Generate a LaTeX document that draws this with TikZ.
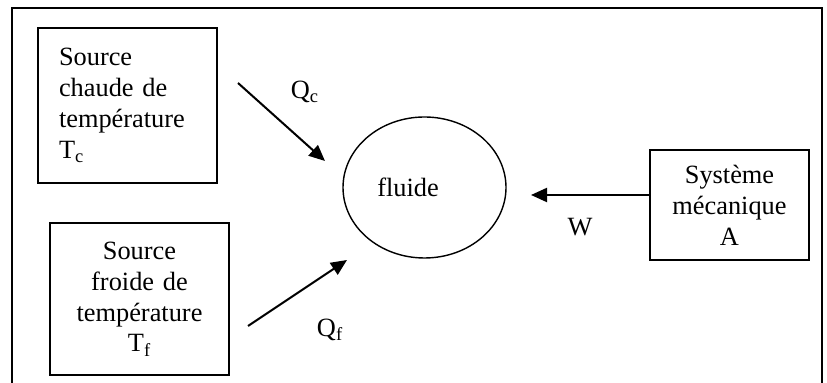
\documentclass[tikz,border=0pt]{standalone}
\usepackage{fontspec}
\setmainfont{Liberation Serif}
\usepackage{tikz}
\usetikzlibrary{arrows.meta, positioning, shapes.geometric, calc}

\begin{document}
\begin{tikzpicture}[
        box/.style={rectangle, draw, line width=0.8pt, minimum width=3.58cm, inner sep=0pt},
        fluidshape/.style={ellipse, draw, line width=0.8pt, minimum width=3.26cm, minimum height=2.82cm},
        flow/.style={line width=1.15pt, -{Triangle[length=0.32cm, width=0.28cm]}},
        lbl/.style={inner sep=0pt}
    ]
        \fontsize{15}{17.6}\selectfont
        \useasboundingbox (0,0) rectangle (16.54,7.66);

        % Frame
        \coordinate (frame_bl) at (0.24,0);
        \coordinate (frame_tl) at (0.24,7.5);
        \coordinate (frame_tr) at (16.44,7.5);
        \coordinate (frame_br) at (16.44,0);
        \draw[line width=1pt] (frame_bl) -- (frame_tl) -- (frame_tr) -- (frame_br);

        % Sources and system
        \node[box, minimum height=3.1cm, text width=2.74cm, align=left] (hot_source) at (2.55,5.55) {Source\\chaude de\\température\\T\textsubscript{c}};
        \node[box, minimum height=3.04cm, text width=3.2cm, align=center] (cold_source) at (2.79,1.68) {Source\\froide de\\température\\T\textsubscript{f}};
        \node[box, minimum width=3.18cm, minimum height=2.2cm, text width=3cm, align=center] (mech_system) at (14.59,3.56) {Système\\mécanique\\A};

        % Fluid
        \node[fluidshape] (fluid) at (8.49,3.91) {};
        \node[lbl] (fluid_text) at ([xshift=-0.33cm]fluid.center) {fluide};

        % Arrows
        \coordinate (qc_start) at (4.76,6.0);
        \coordinate (qc_end) at (6.5,4.44);
        \coordinate (qf_start) at (4.96,1.14);
        \coordinate (qf_end) at (6.94,2.46);
        \coordinate (w_end) at (10.62,3.76);
        \draw[flow] (qc_start) -- (qc_end);
        \draw[flow] (qf_start) -- (qf_end);
        \draw[flow] (mech_system.west |- w_end) -- (w_end);

        % Labels
        \node[lbl] (qc_label) at (6.1,5.82) {Q\textsubscript{c}};
        \node[lbl] (qf_label) at (6.6,1.06) {Q\textsubscript{f}};
        \node[lbl] (w_label) at (11.6,3.12) {W};
    \end{tikzpicture}
\end{document}
